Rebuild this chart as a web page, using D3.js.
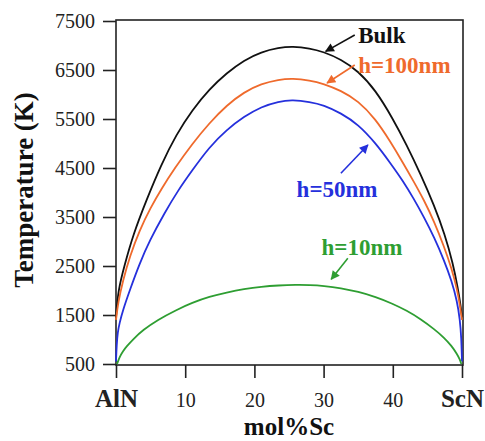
<!DOCTYPE html>
<html>
<head>
<meta charset="utf-8">
<script src="https://cdn.jsdelivr.net/npm/d3@7"></script>
<style>
  body { margin: 0; background: #fff; }
  svg text { font-family: "Liberation Serif", "Times New Roman", serif; }
</style>
</head>
<body>
<svg id="chart" width="485" height="441"></svg>
<script>
// values (mol% Sc, temperature K)
var bulkX = [0, 0.3, 1.2, 2.5, 4.4, 6.5, 8.7, 11, 13.5, 16, 18.5, 21, 23.5, 25.5, 28, 30, 32.5, 35, 37.5, 40, 42, 44, 46, 47.5, 48.7, 49.4, 49.8, 50];
var bulkT = [1450, 2000, 2500, 3150, 3847, 4560, 5180, 5680, 6110, 6440, 6700, 6870, 6955, 6980, 6945, 6870, 6720, 6480, 6090, 5510, 4970, 4380, 3730, 3150, 2550, 2050, 1700, 1450];

var h100X = [0, 0.3, 1, 2, 3.4, 5, 6.5, 8.5, 11, 13.5, 16, 18.5, 21, 23.5, 25.5, 28, 30, 32.5, 35, 37.5, 39.6, 41.5, 43, 44.5, 46, 47.4, 48.5, 49.3, 49.7, 50];
var h100T = [1400, 1750, 2200, 2700, 3230, 3690, 4060, 4500, 4990, 5420, 5780, 6050, 6220, 6305, 6330, 6290, 6220, 6080, 5870, 5500, 5050, 4600, 4230, 3847, 3400, 2900, 2450, 2020, 1700, 1400];

var h50X = [0, 0.1, 0.25, 0.5, 1, 2, 3.4, 4.9, 7, 9, 11, 13.5, 16, 18.5, 21, 23.5, 25.5, 28, 30, 32.5, 35, 37.5, 39.6, 41.5, 43, 44.5, 46, 47.4, 48.5, 49.3, 49.7, 49.9, 50];
var h50T = [550, 900, 1150, 1330, 1600, 2010, 2550, 3030, 3580, 4050, 4450, 4930, 5280, 5550, 5750, 5860, 5890, 5850, 5786, 5620, 5390, 5010, 4610, 4230, 3880, 3500, 3080, 2620, 2200, 1780, 1400, 1050, 550];

var h10X = [0.15, 0.5, 1, 1.5, 2.5, 3.9, 6, 8.7, 11, 13.5, 16, 18.5, 21, 23.5, 26, 28, 30, 32.5, 35, 37.5, 40, 42, 44, 46, 47.4, 48.5, 49.3, 49.7, 49.9];
var h10T = [500, 640, 760, 853, 1010, 1194, 1400, 1602, 1750, 1874, 1960, 2031, 2080, 2105, 2115, 2112, 2095, 2050, 1975, 1870, 1730, 1590, 1420, 1210, 1040, 870, 700, 590, 500];

var seriesNames = ["Bulk", "h=100nm", "h=50nm", "h=10nm"];
var seriesColors = ["#111111", "#ef6a2c", "#2530dc", "#2e9e32"];

var yTicks = [500, 1500, 2500, 3500, 4500, 5500, 6500, 7500];
var xTicks = [0, 10, 20, 30, 40, 50];
var xTickNames = {0: "AlN", 50: "ScN"};

// label text position and arrow (from -> to), in data units
var labelX = [35.0, 35.0, 26.1, 29.7];
var labelT = [7060, 6440, 3900, 2720];
var arrowFrom = [[34.5, 7214], [34.5, 6602], [32.5, 4392], [33.5, 2657]];
var arrowTo = [[30.3, 6880], [30.5, 6235], [36.4, 4970], [31.1, 2229]];

var svg = d3.select("#chart");
var pLeft = 116, pRight = 462, pTop = 21, pBottom = 364;

var x = d3.scaleLinear().domain([0, 50]).range([pLeft, pRight]);
var y = d3.scaleLinear().domain([500, 7500]).range([pBottom, pTop]);

// frame
svg.append("rect")
  .attr("x", pLeft).attr("y", pTop - 1)
  .attr("width", pRight - pLeft + 1).attr("height", pBottom - pTop + 2)
  .attr("fill", "none").attr("stroke", "#222").attr("stroke-width", 1.6);

var yAxis = svg.append("g")
  .attr("transform", "translate(" + pLeft + ",0)")
  .call(d3.axisLeft(y).tickValues(yTicks).tickSize(13).tickPadding(8)
    .tickFormat(d3.format("d")));
yAxis.select(".domain").remove();
yAxis.selectAll("line").attr("stroke", "#222").attr("stroke-width", 1.6);
yAxis.selectAll("text")
  .attr("font-size", 20).attr("fill", "#222")
  .style("font-family", "Liberation Serif");

var xAxis = svg.append("g")
  .attr("transform", "translate(0," + (pBottom + 1) + ")")
  .call(d3.axisBottom(x).tickValues(xTicks).tickSize(13)
    .tickFormat(function(d){ return xTickNames[d] || d; }));
xAxis.select(".domain").remove();
xAxis.selectAll("line").attr("stroke", "#222").attr("stroke-width", 1.6);
xAxis.selectAll("text")
  .attr("dy", null)
  .attr("y", 42)
  .attr("fill", "#222")
  .style("font-family", "Liberation Serif")
  .attr("font-size", function(d){ return xTickNames[d] ? 25 : 20; })
  .attr("font-weight", function(d){ return xTickNames[d] ? "bold" : "normal"; });

// axis titles
svg.append("text")
  .attr("x", 289).attr("y", 435)
  .attr("text-anchor", "middle")
  .attr("font-size", 25).attr("font-weight", "bold").attr("fill", "#111")
  .text("mol%Sc");

svg.append("text")
  .attr("transform", "translate(33,190) rotate(-90)")
  .attr("text-anchor", "middle")
  .attr("font-size", 27).attr("font-weight", "bold").attr("fill", "#111")
  .text("Temperature (K)");

// curves (basis spline to smooth out reading noise)
var allX = [bulkX, h100X, h50X, h10X];
var allT = [bulkT, h100T, h50T, h10T];
var line = d3.line()
  .x(function(d){ return x(d[0]); })
  .y(function(d){ return y(d[1]); })
  .curve(d3.curveBasis);

allX.forEach(function(xs, i){
  var pts = xs.map(function(v, j){ return [v, allT[i][j]]; });
  svg.append("path")
    .datum(pts)
    .attr("d", line)
    .attr("fill", "none")
    .attr("stroke", seriesColors[i])
    .attr("stroke-width", 1.8);
});

// arrows + labels
var defs = svg.append("defs");
seriesColors.forEach(function(c, i){
  defs.append("marker")
    .attr("id", "head" + i)
    .attr("viewBox", "0 0 10 10")
    .attr("refX", 9).attr("refY", 5)
    .attr("markerUnits", "userSpaceOnUse")
    .attr("markerWidth", 11).attr("markerHeight", 9)
    .attr("orient", "auto")
    .append("path")
    .attr("d", "M0,0 L10,5 L0,10 Z")
    .attr("fill", c);
});

seriesNames.forEach(function(name, i){
  svg.append("line")
    .attr("x1", x(arrowFrom[i][0])).attr("y1", y(arrowFrom[i][1]))
    .attr("x2", x(arrowTo[i][0])).attr("y2", y(arrowTo[i][1]))
    .attr("stroke", seriesColors[i]).attr("stroke-width", 1.6)
    .attr("marker-end", "url(#head" + i + ")");
  svg.append("text")
    .attr("x", x(labelX[i])).attr("y", y(labelT[i]))
    .attr("font-size", 23).attr("font-weight", "bold")
    .attr("fill", seriesColors[i])
    .text(name);
});
</script>
</body>
</html>
